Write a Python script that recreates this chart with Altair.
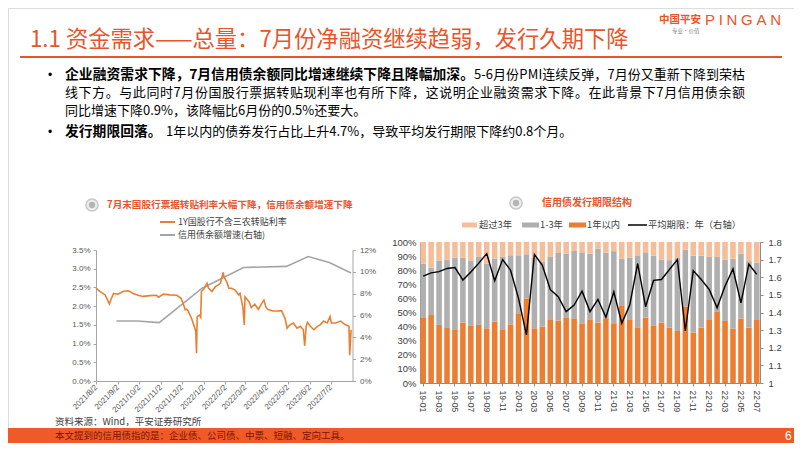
import altair as alt
import pandas as pd

# ---------------- text content ----------------
title_text = "1.1 资金需求——总量：7月份净融资继续趋弱，发行久期下降"
logo_cn = "中国平安"
logo_en = "PINGAN"
logo_sub = "专业·价值"
b1_bold = "企业融资需求下降，7月信用债余额同比增速继续下降且降幅加深。"
b1_l1 = "5-6月份PMI连续反弹，7月份又重新下降到荣枯"
b1_l2 = "线下方。与此同时7月份国股行票据转贴现利率也有所下降，这说明企业融资需求下降。在此背景下7月信用债余额"
b1_l3 = "同比增速下降0.9%，该降幅比6月份的0.5%还要大。"
b2_bold = "发行期限回落。"
b2_l1 = "1年以内的债券发行占比上升4.7%，导致平均发行期限下降约0.8个月。"
left_title = "7月末国股行票据转贴利率大幅下降，信用债余额增速下降"
left_legend = ["1Y国股行不含三农转贴利率", "信用债余额增速(右轴)"]
right_title = "信用债发行期限结构"
right_legend = ["超过3年", "1-3年", "1年以内", "平均期限：年（右轴）"]
source_text = "资料来源：Wind，平安证券研究所"
note_text = "本文提到的信用债指的是：企业债、公司债、中票、短融、定向工具。"
page_no = "6"

# ---------------- left panel data ----------------
rate_dates = ["2021/08/02", "2021/08/08", "2021/08/15", "2021/08/21", "2021/08/24", "2021/08/27",
              "2021/09/02", "2021/09/10", "2021/09/17", "2021/09/24",
              "2021/10/01", "2021/10/08", "2021/10/18", "2021/10/27", "2021/10/30",
              "2021/11/06", "2021/11/15", "2021/11/25",
              "2021/12/01", "2021/12/04", "2021/12/07", "2021/12/09", "2021/12/11", "2021/12/16",
              "2021/12/20", "2021/12/22", "2021/12/23", "2021/12/24", "2021/12/27", "2021/12/29", "2021/12/30",
              "2022/01/02", "2022/01/07", "2022/01/09", "2022/01/14", "2022/01/19", "2022/01/23",
              "2022/01/26", "2022/01/30", "2022/01/31",
              "2022/02/04", "2022/02/07", "2022/02/11", "2022/02/16", "2022/02/21", "2022/02/23", "2022/02/27",
              "2022/03/01", "2022/03/02", "2022/03/06", "2022/03/08", "2022/03/11", "2022/03/16",
              "2022/03/21", "2022/03/26", "2022/03/29",
              "2022/04/01", "2022/04/04", "2022/04/11", "2022/04/18", "2022/04/23", "2022/04/28",
              "2022/05/01", "2022/05/05", "2022/05/10", "2022/05/15", "2022/05/20", "2022/05/24",
              "2022/05/26", "2022/05/28", "2022/05/30",
              "2022/06/03", "2022/06/08", "2022/06/13", "2022/06/17", "2022/06/22", "2022/06/27",
              "2022/07/01", "2022/07/03", "2022/07/09", "2022/07/16", "2022/07/23", "2022/07/28",
              "2022/07/29", "2022/07/31"]
rate_values = [2.48, 2.39, 2.30, 2.06, 2.21, 2.34, 2.32, 2.40, 2.41, 2.34,
               2.29, 2.26, 2.28, 2.29, 2.24, 2.32, 2.30, 2.29, 2.21, 2.07,
               1.90, 1.92, 1.88, 1.67, 1.45, 1.32, 0.74, 1.72, 1.76, 1.70,
               2.39, 2.45, 2.61, 2.48, 2.39, 2.52, 2.57, 2.61, 2.90, 2.79,
               2.65, 2.48, 2.48, 2.43, 2.30, 2.34, 1.97, 1.50, 2.25, 2.16,
               2.11, 1.96, 2.05, 1.91, 2.08, 2.16, 1.96, 1.91, 1.87, 1.87,
               1.88, 1.67, 1.41, 1.50, 1.55, 1.41, 1.46, 1.37, 0.94, 1.46,
               1.57, 1.46, 1.37, 1.46, 1.50, 1.60, 1.55, 1.72, 1.55, 1.55,
               1.60, 1.50, 1.46, 0.69, 1.37]
growth_dates = ["2021/08/31", "2021/09/30", "2021/10/31", "2021/12/31", "2022/02/28",
                "2022/04/30", "2022/05/31", "2022/06/30", "2022/07/31"]
growth_values = [5.5, 5.5, 5.35, 8.5, 10.4, 10.5, 11.4, 10.85, 9.9]
tick_year_month = [(2021, 8), (2021, 9), (2021, 10), (2021, 11), (2021, 12), (2022, 1),
                   (2022, 2), (2022, 3), (2022, 4), (2022, 5), (2022, 6), (2022, 7)]
rate_ticks = [0, 0.5, 1.0, 1.5, 2.0, 2.5, 3.0, 3.5]
growth_ticks = [0, 2, 4, 6, 8, 10, 12]

# ---------------- right panel data ----------------
months = ["19-01", "19-02", "19-03", "19-04", "19-05", "19-06", "19-07", "19-08", "19-09", "19-10", "19-11", "19-12",
          "20-01", "20-02", "20-03", "20-04", "20-05", "20-06", "20-07", "20-08", "20-09", "20-10", "20-11", "20-12",
          "21-01", "21-02", "21-03", "21-04", "21-05", "21-06", "21-07", "21-08", "21-09", "21-10", "21-11", "21-12",
          "22-01", "22-02", "22-03", "22-04", "22-05", "22-06", "22-07"]
share_within_1y = [46.6, 48.2, 41.2, 39.5, 37.6, 42.8, 40.5, 41.2, 38.8, 43.5, 37.6, 41.6,
                   49.4, 60.0, 38.8, 40.0, 45.2, 44.2, 46.6, 45.9, 41.9, 45.2, 42.8, 45.9,
                   42.4, 54.6, 45.2, 39.5, 46.3, 40.5, 42.8, 39.3, 36.9, 54.1, 35.7, 39.3,
                   45.2, 50.4, 44.0, 38.6, 45.6, 39.3, 44.7]
share_1to3y = [38.1, 33.7, 45.4, 48.0, 51.3, 46.1, 46.1, 48.2, 45.9, 44.7, 51.8, 49.0,
               41.2, 31.3, 50.1, 45.9, 44.2, 48.0, 45.2, 48.2, 50.3, 46.6, 52.5, 46.6,
               51.1, 33.4, 43.8, 51.0, 46.4, 49.9, 44.8, 47.8, 51.8, 40.5, 54.7, 51.1,
               44.2, 39.0, 43.6, 49.5, 46.2, 47.1, 40.5]
share_over_3y = [15.3, 18.1, 13.4, 12.5, 11.1, 11.1, 13.4, 10.6, 15.3, 11.8, 10.6, 9.4,
                 9.4, 8.7, 11.1, 14.1, 10.6, 7.8, 8.2, 5.9, 7.8, 8.2, 4.7, 7.5,
                 6.5, 12.0, 11.0, 9.5, 7.3, 9.6, 12.4, 12.9, 11.3, 5.4, 9.6, 9.6,
                 10.6, 10.6, 12.4, 11.9, 8.2, 13.6, 14.8]
avg_term = [1.606, 1.625, 1.632, 1.650, 1.655, 1.584, 1.630, 1.680, 1.734, 1.580, 1.700, 1.640,
            1.480, 1.273, 1.730, 1.668, 1.530, 1.490, 1.405, 1.442, 1.521, 1.405, 1.474, 1.373,
            1.517, 1.339, 1.442, 1.678, 1.433, 1.582, 1.587, 1.644, 1.700, 1.295, 1.638, 1.587,
            1.531, 1.427, 1.550, 1.647, 1.455, 1.674, 1.616]
pct_ticks = [0, 10, 20, 30, 40, 50, 60, 70, 80, 90, 100]
term_ticks = [1, 1.1, 1.2, 1.3, 1.4, 1.5, 1.6, 1.7, 1.8]

# ---------------- styling ----------------
CJK = "Noto Sans CJK SC"
NUM = "Liberation Sans"
RED = "#E8552B"
ORANGE = "#ED7D31"
GRAY = "#AFAFAF"
LIGHT = "#F6BE98"
W, H = 786, 435
BODY = 13.0
BOLD = 13.8

# approximate advance widths (in em) of the narrow glyphs used in the text
NARROW = {"P": 0.667, "I": 0.278, "N": 0.722, "G": 0.778, "A": 0.667, "M": 0.833,
          "-": 0.333, "%": 0.889, ".": 0.278}

one = pd.DataFrame({"k": [0]})


def txt(s, x, y, size, color="#000000", weight="normal", align="left", font=CJK):
    return alt.Chart(pd.DataFrame({"t": [s]})).mark_text(
        align=align, baseline="middle", fontSize=size, font=font, color=color, fontWeight=weight
    ).encode(x=alt.value(x), y=alt.value(y), text="t:N")


def advance(c, size):
    if ord(c) > 255:
        return size
    return size * NARROW.get(c, 0.556)


def justified(segments, x0, x1, y, color="#000000", font=CJK):
    """Spread a line made of (text, size, weight) segments evenly between x0 and x1."""
    chars = [(c, size, weight) for (s, size, weight) in segments for c in s]
    widths = [advance(c, size) for (c, size, _) in chars]
    gap = (x1 - x0 - sum(widths)) / (len(chars) - 1)
    out, x = [], x0
    for (c, size, weight), w in zip(chars, widths):
        out.append(txt(c, x + w / 2, y, size, color, weight, align="center", font=font))
        x += w + gap
    return out


def hrule(x1, x2, y, color, width):
    return alt.Chart(one).mark_rule(color=color, strokeWidth=width).encode(
        x=alt.value(x1), x2=alt.value(x2), y=alt.value(y))


def box(x1, x2, y1, y2, color):
    return alt.Chart(one).mark_rect(color=color).encode(
        x=alt.value(x1), x2=alt.value(x2), y=alt.value(y1), y2=alt.value(y2))


def icon(x, y):
    outer = alt.Chart(one).mark_point(shape="circle", size=150, filled=True, color="#EDEDED",
                                      stroke="#C9C9C9", strokeWidth=1.5, opacity=1).encode(
        x=alt.value(x), y=alt.value(y))
    inner = alt.Chart(one).mark_point(shape="circle", size=40, filled=True, color="#B5B5B5", opacity=1).encode(
        x=alt.value(x), y=alt.value(y))
    return [outer, inner]


layers = []

# header
layers.append(txt(title_text, 22, 32, 22.3, RED))
layers.append(hrule(12, 774, 49, RED, 2.2))
layers.append(txt(logo_cn, 651, 12, 10.5, RED, "bold"))
layers += justified([(logo_en, 15, "normal")], 697, 773, 12, RED, font=NUM)
layers.append(txt(logo_sub, 664, 23, 5.5, "#8C8C8C"))

# bullets
layers.append(txt("•", 40, 67, 12, "#000000", font=NUM))
layers += justified([(b1_bold, BOLD, "bold"), (b1_l1, BODY, "normal")], 57, 737, 67)
layers += justified([(b1_l2, BODY, "normal")], 57, 737, 85)
layers.append(txt(b1_l3, 57, 103, BODY, "#000000"))
layers.append(txt("•", 40, 124, 12, "#000000", font=NUM))
layers.append(txt(b2_bold, 57, 124, BOLD, "#000000", "bold"))
layers.append(txt(b2_l1, 158, 124, BODY, "#000000"))

# left panel title + legend
layers += icon(84, 197)
layers.append(txt(left_title, 99, 197, 9.6, RED, "bold"))
layers.append(hrule(152, 167, 214, ORANGE, 2))
layers.append(txt(left_legend[0], 170, 214, 9, "#404040"))
layers.append(hrule(152, 167, 227, "#A5A5A5", 2))
layers.append(txt(left_legend[1], 170, 227, 9, "#404040"))

# left panel charts
date_domain = [alt.DateTime(year=2021, month=8, date=2), alt.DateTime(year=2022, month=8, date=2)]
date_tick_values = [alt.DateTime(year=y, month=m, date=2) for (y, m) in tick_year_month]
lstyle = dict(labelFont=NUM, labelFontSize=8, labelColor="#595959", domainColor="#A6A6A6",
              tickColor="#A6A6A6", tickSize=3, grid=False, labelOverlap=False, labelFlush=False)

rate_df = pd.DataFrame({"date": rate_dates, "rate": rate_values})
growth_df = pd.DataFrame({"date": growth_dates, "growth": growth_values})

rate_line = alt.Chart(rate_df).mark_line(color=ORANGE, strokeWidth=1.6).encode(
    x=alt.X("date:T", title=None, scale=alt.Scale(domain=date_domain, range=[88, 344.5]),
            axis=alt.Axis(orient="bottom", offset=-62, values=date_tick_values, format="%Y/%-m/%-d",
                          labelAngle=-45, labelAlign="right", labelBaseline="middle", labelPadding=2,
                          **lstyle)),
    y=alt.Y("rate:Q", title=None, scale=alt.Scale(domain=[0, 3.5], range=[373, 242]),
            axis=alt.Axis(orient="left", offset=-88, values=rate_ticks,
                          labelExpr="format(datum.value, '.1f') + '%'", labelPadding=3, **lstyle)),
)
growth_line = alt.Chart(growth_df).mark_line(color="#A5A5A5", strokeWidth=1.6).encode(
    x=alt.X("date:T", title=None, scale=alt.Scale(domain=date_domain, range=[88, 344.5]), axis=None),
    y=alt.Y("growth:Q", title=None, scale=alt.Scale(domain=[0, 12], range=[373, 242]),
            axis=alt.Axis(orient="right", offset=344.5 - W, values=growth_ticks,
                          labelExpr="datum.value + '%'", labelPadding=4, **lstyle)),
)
layers += [growth_line, rate_line]

# right panel title + legend
layers += icon(508, 195)
layers.append(txt(right_title, 534, 195, 10, RED, "bold"))
layers.append(box(454, 469, 214.5, 219.5, LIGHT))
layers.append(txt(right_legend[0], 471, 217, 9.3, "#404040"))
layers.append(box(514, 531, 214.5, 219.5, GRAY))
layers.append(txt(right_legend[1], 532, 217, 9.3, "#404040"))
layers.append(box(561, 578, 214.5, 219.5, ORANGE))
layers.append(txt(right_legend[2], 579, 217, 9.3, "#404040"))
layers.append(hrule(620, 639, 217, "#000000", 1.5))
layers.append(txt(right_legend[3], 640, 217, 9.3, "#404040"))

# right panel charts
bar_rows = []
for i, m in enumerate(months):
    bar_rows.append({"month": m, "term": "1年以内", "rank": 0, "share": share_within_1y[i]})
    bar_rows.append({"month": m, "term": "1-3年", "rank": 1, "share": share_1to3y[i]})
    bar_rows.append({"month": m, "term": "超过3年", "rank": 2, "share": share_over_3y[i]})
bar_df = pd.DataFrame(bar_rows)
term_df = pd.DataFrame({"month": months, "avg": avg_term})

rstyle = dict(labelFont=NUM, labelColor="#404040", domainColor="#8C8C8C", tickColor="#8C8C8C",
              grid=False, labelOverlap=False, labelFlush=False)
band = dict(type="band", domain=months, range=[412, 752], paddingInner=0.3, paddingOuter=0.05)

bars = alt.Chart(bar_df).mark_bar().encode(
    x=alt.X("month:N", title=None, sort=months, scale=alt.Scale(**band),
            axis=alt.Axis(orient="bottom", offset=-60, values=months[::2], labelAngle=90,
                          labelFontSize=8.5, tickSize=3, labelPadding=4, **rstyle)),
    y=alt.Y("share:Q", title=None, stack="zero", scale=alt.Scale(domain=[0, 100], range=[375, 234]),
            axis=alt.Axis(orient="left", offset=-412, values=pct_ticks, labelExpr="datum.value + '%'",
                          labelFontSize=9.5, tickSize=0, labelPadding=4, **rstyle)),
    color=alt.Color("term:N", legend=None,
                    scale=alt.Scale(domain=["1年以内", "1-3年", "超过3年"], range=[ORANGE, GRAY, LIGHT])),
    order=alt.Order("rank:Q"),
)
term_line = alt.Chart(term_df).mark_line(color="#000000", strokeWidth=1.4).encode(
    x=alt.X("month:N", title=None, sort=months, scale=alt.Scale(**band), axis=None),
    y=alt.Y("avg:Q", title=None, scale=alt.Scale(domain=[1, 1.8], range=[375, 234]),
            axis=alt.Axis(orient="right", offset=752 - W, values=term_ticks, format="~g",
                          labelFontSize=9.5, tickSize=3, labelPadding=5, **rstyle)),
)
layers += [bars, term_line]

# footer
layers.append(txt(source_text, 47, 414, 9.5, "#404040"))
layers.append(box(0, W, 420, H, "#F05A28"))
layers.append(txt(note_text, 47, 428, 9.5, "#7A1600"))
layers.append(txt(page_no, 777, 428, 12, "#FFFFFF", font=NUM))

chart = alt.layer(*layers).resolve_scale(
    x="independent", y="independent", color="independent"
).properties(
    width=W, height=H, autosize=alt.AutoSizeParams(type="none"), padding=0
).configure_view(stroke=None).configure(font=CJK)

chart.save("out.html", embed_options={"renderer": "svg", "actions": False})
